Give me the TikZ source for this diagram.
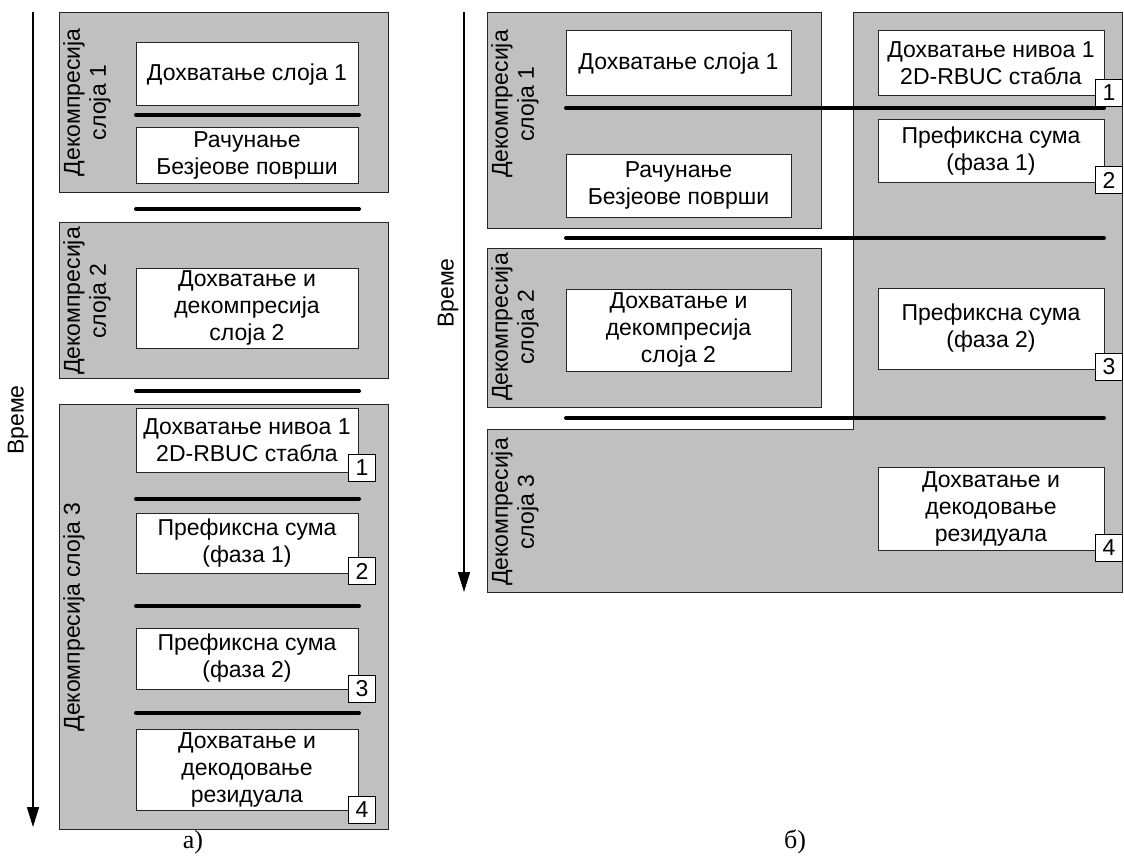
\documentclass[tikz,border=0pt]{standalone}
\usepackage{fontspec}
\setmainfont{Liberation Sans}
\newfontfamily\capfont{Liberation Serif}
\usetikzlibrary{arrows.meta}
\definecolor{layergray}{HTML}{C0C0C0}
\tikzset{
	layer/.style={draw=black!85, fill=layergray, line width=1pt, inner sep=0},
	task/.style={draw=black!85, fill=white, line width=1pt, align=center, inner sep=0, minimum width=222, font=\fontsize{23}{27}\selectfont},
	tag/.style={draw, fill=white, line width=1.5pt, minimum size=27, inner sep=0, font=\fontsize{23}{27}\selectfont},
	sync/.style={line width=4pt, line cap=round},
	layername/.style={rotate=90, anchor=north, align=center, inner sep=0, font=\fontsize{23}{26}\selectfont},
	timeaxis/.style={line width=1.6pt, -{Triangle[length=20,width=12]}},
}

\begin{document}
\begin{tikzpicture}[x=1pt, y=-1pt]
	\useasboundingbox (0,0) rectangle (1124,856);

	% a)
	\node[layer, minimum width=329, minimum height=179] (A1) at (223.5,102.5) {};
	\node[layer, minimum width=329, minimum height=156] (A2) at (223.5,300) {};
	\node[layer, minimum width=329, minimum height=425] (A3) at (223.5,616.5) {};
	\node[layername] at (63,102.5) {Декомпресија\\слоја 1};
	\node[layername] at (63,301) {Декомпресија\\слоја 2};
	\node[layername] at (63,617) {Декомпресија слоја 3};

	\node[task, minimum height=63] (a1) at (247,74.5) {Дохватање слоја 1};
	\node[task, minimum height=55] (a2) at (247,155.5) {Рачунање\\Безјеове површи};
	\node[task, minimum height=80] (a3) at (247,308) {Дохватање и\\декомпресија\\слоја 2};
	\node[task, minimum height=64] (a4) at (247,440) {Дохватање нивоа 1\\2D-RBUC стабла};
	\node[task, minimum height=60] (a5) at (247,543) {Префиксна сума\\(фаза 1)};
	\node[task, minimum height=61] (a6) at (247,658.5) {Префиксна сума\\(фаза 2)};
	\node[task, minimum height=81] (a7) at (247,769.5) {Дохватање и\\декодовање\\резидуала};

	\foreach \y in {115,209,391,499,606,713}
		\draw[sync] (136,\y) -- (359,\y);

	\node[tag] (ta1) at (362,468) {1};
	\node[tag] (ta2) at (362,571) {2};
	\node[tag] (ta3) at (362,689) {3};
	\node[tag] (ta4) at (362,810) {4};

	\coordinate (ta) at (33,12);
	\coordinate (tb) at (33,827);
	\draw[timeaxis] (ta) -- (tb);
	\node[rotate=90, font=\fontsize{23}{27}\selectfont] (va) at (18,420) {Време};
	\node[font=\capfont\fontsize{26}{30}\selectfont] (capa) at (193,842) {а)};

	% b)
	\node[layer, minimum width=334, minimum height=215] (B1) at (654,120.5) {};
	\node[layer, minimum width=334, minimum height=159] (B2) at (654,327.5) {};
	\draw[layer] (853,13) -- (1122,13) -- (1122,592) -- (487,592) -- (487,429) -- (853,429) -- cycle;
	\node[layername] at (491,104) {Декомпресија\\слоја 1};
	\node[layername] at (491,327) {Декомпресија\\слоја 2};
	\node[layername] at (491,512) {Декомпресија\\слоја 3};

	\node[task, minimum width=225, minimum height=65] (b1) at (678.5,63.5) {Дохватање слоја 1};
	\node[task, minimum width=225, minimum height=63] (b2) at (678.5,185.5) {Рачунање\\Безјеове површи};
	\node[task, minimum width=225, minimum height=82] (b3) at (678.5,330) {Дохватање и\\декомпресија\\слоја 2};
	\node[task, minimum width=226, minimum height=65] (b4) at (991,63.5) {Дохватање нивоа 1\\2D-RBUC стабла};
	\node[task, minimum width=226, minimum height=62] (b5) at (991,151) {Префиксна сума\\(фаза 1)};
	\node[task, minimum width=226, minimum height=81] (b6) at (991,328.5) {Префиксна сума\\(фаза 2)};
	\node[task, minimum width=226, minimum height=83] (b7) at (991,508.5) {Дохватање и\\декодовање\\резидуала};

	\foreach \y in {108,238,418}
		\draw[sync] (566,\y) -- (1104,\y);

	\node[tag] (tb1) at (1109,93) {1};
	\node[tag] (tb2) at (1109,180) {2};
	\node[tag] (tb3) at (1109,367) {3};
	\node[tag] (tb4) at (1109,548) {4};

	\coordinate (tc) at (464,12);
	\coordinate (td) at (464,592);
	\draw[timeaxis] (tc) -- (td);
	\node[rotate=90, font=\fontsize{23}{27}\selectfont] (vb) at (448,293) {Време};
	\node[font=\capfont\fontsize{26}{30}\selectfont] (capb) at (795,842) {б)};
\end{tikzpicture}
\end{document}
